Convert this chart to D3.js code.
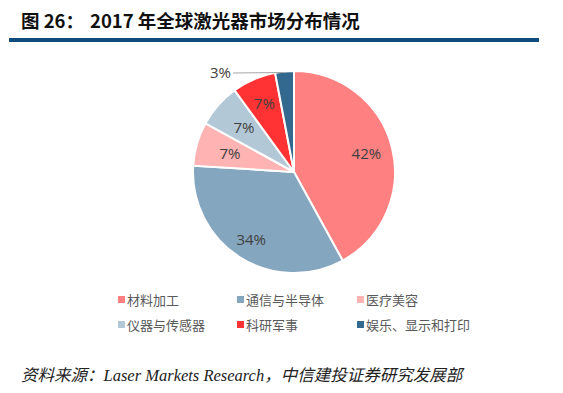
<!DOCTYPE html>
<html>
<head>
<meta charset="utf-8">
<script src="https://cdn.jsdelivr.net/npm/d3@7"></script>
<style>
  body { margin: 0; background: #fff; }
  svg { display: block; }
</style>
</head>
<body>
<div id="chart"></div>
<script>
// data
var categories = ["材料加工", "通信与半导体", "医疗美容", "仪器与传感器", "科研军事", "娱乐、显示和打印"];
var values = [42, 34, 7, 7, 7, 3];
var colors = ["#FF8080", "#84A6BF", "#FFB3B3", "#B3C8D6", "#FF3333", "#33698F"];

var width = 563, height = 393;
var cx = 294, cy = 172, radius = 101;

var svg = d3.select("#chart").append("svg")
  .attr("width", width)
  .attr("height", height);

// title (two pieces, the original has a wide gap)
var titleStyle = function (sel) {
  sel.style("font-family", "'Noto Sans CJK SC', sans-serif")
    .style("font-weight", "bold")
    .style("font-size", "18.5px")
    .style("fill", "#111");
};
svg.append("text").attr("x", 21).attr("y", 28).call(titleStyle).text("图 26：");
svg.append("text").attr("x", 90).attr("y", 28).call(titleStyle).text("2017 年全球激光器市场分布情况");

svg.append("rect")
  .attr("x", 9).attr("y", 38)
  .attr("width", 530).attr("height", 4)
  .style("fill", "#0E4A7B");

var pie = d3.pie().sort(null).value(function (d) { return d; });
var arcs = pie(values);
var arc = d3.arc().innerRadius(0).outerRadius(radius);

var g = svg.append("g").attr("transform", "translate(" + cx + "," + cy + ")");

g.selectAll("path")
  .data(arcs)
  .enter()
  .append("path")
  .attr("d", arc)
  .style("fill", function (d, i) { return colors[i]; })
  .style("stroke", "#fff")
  .style("stroke-width", 2);

// label positions (radius fraction for each slice)
var labelR = [0.74, 0.79, 0.66, 0.66, 0.74];
var labelArc = function (d, r) {
  return d3.arc().innerRadius(radius * r).outerRadius(radius * r).centroid(d);
};

g.selectAll("text.lbl")
  .data(arcs.slice(0, 5))
  .enter()
  .append("text")
  .attr("class", "lbl")
  .attr("x", function (d, i) { return labelArc(d, labelR[i])[0]; })
  .attr("y", function (d, i) { return labelArc(d, labelR[i])[1]; })
  .attr("dy", "0.35em")
  .attr("text-anchor", "middle")
  .style("font-family", "'Open Sans', 'Noto Sans', sans-serif")
  .style("font-size", "15px")
  .style("fill", "#404040")
  .text(function (d) { return d.data + "%"; });

// outside label for the small slice with leader line
var small = arcs[5];
var mid = (small.startAngle + small.endAngle) / 2;
var p0 = [Math.sin(mid) * radius * 0.99, -Math.cos(mid) * radius * 0.99];
var p1 = [-61, -99];
g.append("polyline")
  .attr("points", [p0, p1].map(function (p) { return p.join(","); }).join(" "))
  .style("fill", "none")
  .style("stroke", "#A6A6A6")
  .style("stroke-width", 1);
g.append("text")
  .attr("x", p1[0] - 2)
  .attr("y", p1[1])
  .attr("dy", "0.35em")
  .attr("text-anchor", "end")
  .style("font-family", "'Open Sans', 'Noto Sans', sans-serif")
  .style("font-size", "15px")
  .style("fill", "#404040")
  .text(small.data + "%");

// legend, 3 columns x 2 rows
var colX = [118, 237, 357];
var rowY = [300, 325];
var legend = svg.selectAll("g.leg")
  .data(categories)
  .enter()
  .append("g")
  .attr("class", "leg")
  .attr("transform", function (d, i) {
    return "translate(" + colX[i % 3] + "," + rowY[Math.floor(i / 3)] + ")";
  });
legend.append("rect")
  .attr("x", 0).attr("y", -4)
  .attr("width", 7).attr("height", 7)
  .style("fill", function (d, i) { return colors[i]; });
legend.append("text")
  .attr("x", 9)
  .attr("y", 0)
  .attr("dy", "0.35em")
  .style("font-family", "'Noto Sans CJK SC', sans-serif")
  .style("font-size", "13px")
  .style("fill", "#595959")
  .text(function (d) { return d; });

// source
svg.append("text")
  .attr("x", 21)
  .attr("y", 381)
  .style("font-family", "'Liberation Serif', 'Noto Sans CJK SC', serif")
  .style("font-style", "italic")
  .style("font-size", "16.5px")
  .style("fill", "#222")
  .text("资料来源：Laser Markets Research，中信建投证券研究发展部");
</script>
</body>
</html>
